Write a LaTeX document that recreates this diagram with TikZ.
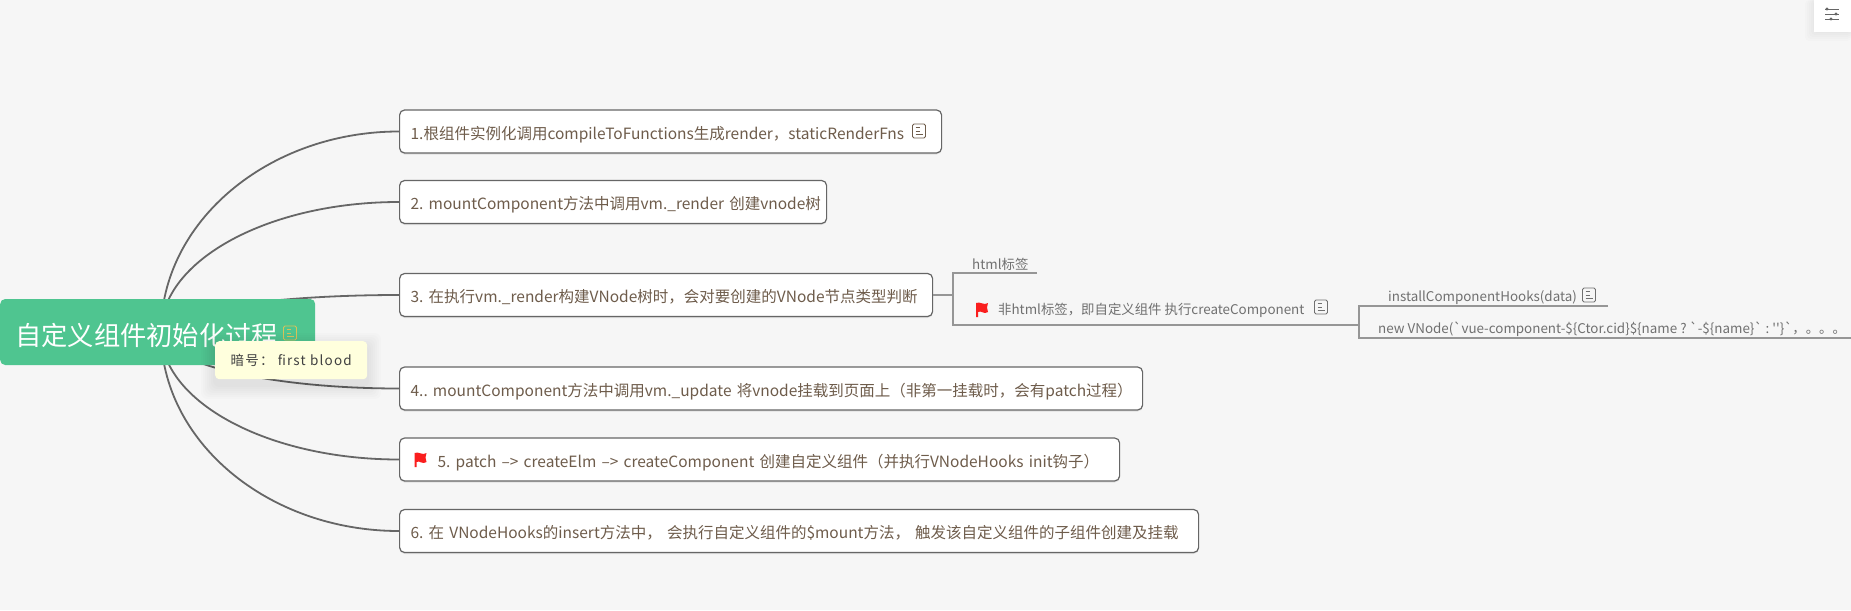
\documentclass[tikz,border=0pt]{standalone}
\usepackage{fontspec}
\setmainfont{Noto Sans CJK SC}
\newfontfamily\plainfont{Noto Sans CJK SC}
\newfontfamily\tipfont[LetterSpace=9]{Noto Sans CJK SC}
\usetikzlibrary{positioning,calc,shadows}
\definecolor{PageGray}{RGB}{246,246,246}
\definecolor{RootGreen}{RGB}{79,197,144}
\definecolor{LinkGray}{RGB}{102,102,102}
\definecolor{SubGray}{RGB}{150,150,150}
\definecolor{TextBrown}{RGB}{110,92,75}
\definecolor{TextGray}{RGB}{112,112,112}
\definecolor{TipYellow}{RGB}{255,255,221}
\definecolor{FlagRed}{RGB}{250,30,30}
\definecolor{IconGold}{RGB}{215,195,90}
\tikzset{
  root/.style={fill=RootGreen,rounded corners=5pt,inner sep=0pt,text=white,
    minimum width=315,minimum height=66,anchor=west,text width=285,align=left,
    text height=27,text depth=1,font=\fontsize{26.3}{30}\selectfont},
  topic/.style={draw=LinkGray,fill=white,rounded corners=5pt,line width=1.2pt,inner ysep=0pt,
    inner xsep=0pt,anchor=west,minimum height=43,align=left,text=TextBrown,
    text height=16,text depth=1,font=\fontsize{15.5}{18}\selectfont\frenchspacing,
    drop shadow={opacity=.18,shadow xshift=0pt,shadow yshift=-1.5pt}},
  lab/.style={inner sep=0pt,anchor=west,text=TextGray,text height=12,text depth=1,
    font=\fontsize{13.4}{16}\selectfont\frenchspacing},
  link/.style={draw=LinkGray,line width=1.8pt},
  subline/.style={draw=SubGray,line width=1.8pt},
  tip/.style={fill=TipYellow,rounded corners=4pt,inner sep=0pt,minimum width=152,minimum height=38,
    anchor=north west,text=black!75,font=\fontsize{13.5}{16}\selectfont},
  noteicon/.pic={
    \draw[pic actions,line width=.9pt,rounded corners=1.5pt] (-6.5,-7) rectangle (6.5,7);
    \draw[pic actions,line width=.9pt] (-3.5,-3.5) -- (1,-3.5) (-3.5,0) -- (1,0) (-3.5,3.5) -- (3.5,3.5);
  },
  flag/.pic={
    \fill[FlagRed] (-6,-7) -- (-6,7) -- (-4,7) -- (-4,2) .. controls (-1,0) and (2,5) .. (6,2)
      -- (5,-2.5) -- (6,-7) .. controls (2,-4) and (-2,-9) .. (-6,-7) -- cycle;
  },
}
\begin{document}
\begin{tikzpicture}[x=1pt,y=-1pt]
\useasboundingbox[fill=PageGray] (0,0) rectangle (1851,610);
\coordinate (hub) at (161,332);
\coordinate (t1in) at (399,131.5);
\coordinate (t2in) at (399,202);
\coordinate (t3in) at (399,295);
\coordinate (t4in) at (399,388.5);
\coordinate (t5in) at (399,459.5);
\coordinate (t6in) at (399,531);
\foreach \n/\dy in {1/-200,2/-130,3/-37,4/56,5/127,6/199}
  \draw[link] (hub) .. controls ($(hub)+(0,.55*\dy)$) and ($(t\n in)+(-131,0)$) .. (t\n in);
\node[root] (rootnode) at (0,332) {自定义组件初始化过程};
\pic[draw=IconGold] at (290,333) {noteicon};
\node[topic,minimum width=542,text width=520] (t1) at (t1in) {1.根组件实例化调用compileToFunctions生成render，staticRenderFns};
\node[topic,minimum width=427,text width=405] (t2) at (t2in) {\mbox{2. mountComponent方法中调用vm.\_render 创建vnode树}};
\node[topic,minimum width=533,text width=511] (t3) at (t3in) {3. 在执行vm.\_render构建VNode树时，会对要创建的VNode节点类型判断};
\node[topic,minimum width=743,text width=721] (t4) at (t4in) {4.. mountComponent方法中调用vm.\_update 将vnode挂载到页面上（非第一挂载时，会有patch过程）};
\node[topic,minimum width=720,text width=698] (t5) at (t5in) {\hspace*{27pt}5. patch –{}> createElm –{}> createComponent 创建自定义组件（并执行VNodeHooks init钩子）};
\node[topic,minimum width=799,text width=777] (t6) at (t6in) {6. 在 VNodeHooks的insert方法中， 会执行自定义组件的\$mount方法， 触发该自定义组件的子组件创建及挂载};
\pic[draw=TextBrown] at (919,131) {noteicon};
\pic at (420.5,460) {flag};
\coordinate (sub1l) at (953,273);
\coordinate (sub1r) at (1037,273);
\coordinate (sub2l) at (953,325);
\coordinate (sub2r) at (1359,325);
\coordinate (sub3l) at (1359,306);
\coordinate (sub3r) at (1608,306);
\coordinate (sub4l) at (1359,338);
\coordinate (sub4r) at (1851,338);
\draw[subline] (t3.east) -- (t3.east -| sub1l);
\draw[subline] (sub1r) -- (sub1l) -- (sub2l) -- (sub2r);
\draw[subline] (sub3r) -- (sub3l) -- (sub4l) -- (sub4r);
\node[lab] (htmltag) at (972,264) {html标签};
\node[lab] (customtag) at (998,309) {非html标签，即自定义组件 执行createComponent};
\node[lab] (hooks) at (1388,296) {installComponentHooks(data)};
\node[lab] (vnode) at (1378,328) {\plainfont new VNode(`vue-component-\$\{Ctor.cid\}\$\{name ? `-\$\{name\}` : ''\}`，。。。};
\pic at (982,310) {flag};
\pic[draw=TextGray] at (1321,307) {noteicon};
\pic[draw=TextGray] at (1589,295) {noteicon};
\foreach \s in {2,4,...,14}
  \fill[black,opacity=.012,rounded corners=6pt] (215-\s,347-\s) rectangle (367+\s,385+\s);
\node[tip] (hint) at (215,341) {\tipfont 暗号： first blood};
\foreach \s in {1,3,...,9}
  \fill[black,opacity=.012,rounded corners=4pt] (1814-\s,0) rectangle (1851,32+\s);
\fill[white] (1814,0) rectangle (1851,32);
\foreach \yy/\xx in {9/1827,14/1836,19/1831}{
  \draw[LinkGray,line width=.8pt] (1825,\yy) -- (1839,\yy);
  \fill[LinkGray] (\xx,\yy) circle (1.7pt);
}
\end{tikzpicture}
\end{document}
